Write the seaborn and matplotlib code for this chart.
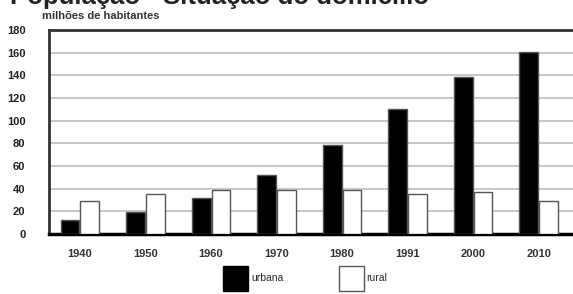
import pandas as pd
import matplotlib
matplotlib.use("Agg")
import matplotlib.pyplot as plt
import seaborn as sns
from matplotlib.patches import Patch

# --------------------- Data ---------------------
anos = ["1940", "1950", "1960", "1970", "1980", "1991", "2000", "2010"]
urbana = [12.5, 19, 31.5, 52, 78.5, 110.5, 138.5, 160.5]
rural = [29.5, 35, 38.5, 39, 39, 35, 37, 29.5]
situacao = ["urbana", "rural"]
yticks = [0, 20, 40, 60, 80, 100, 120, 140, 160, 180]

df = pd.DataFrame({
    "ano": anos * 2,
    "situacao": [situacao[0]] * len(anos) + [situacao[1]] * len(anos),
    "pop": urbana + rural,
})

sns.set_style("white")
plt.rcParams["font.family"] = ["Liberation Sans", "DejaVu Sans"]

fig = plt.figure(figsize=(5.73, 2.94), dpi=100)
ax = fig.add_axes([0.0855, 0.204, 0.93, 0.694])

sns.barplot(data=df, x="ano", y="pop", hue="situacao", order=anos,
            hue_order=situacao, palette=["black", "white"], width=0.6, gap=0.05,
            edgecolor="#555555", linewidth=1.0, legend=False, ax=ax, zorder=3)

ax.set_ylim(0, 180)
ax.set_xlim(-0.473, 7.66)
ax.set_yticks(yticks)
ax.set_yticklabels([str(v) for v in yticks], fontsize=8, fontweight="bold", color="#222222")
ax.set_xticks(range(len(anos)))
ax.set_xticklabels(anos, fontsize=8, fontweight="bold", color="#333333")
ax.tick_params(axis="both", length=0)
ax.tick_params(axis="y", pad=17)
ax.tick_params(axis="x", pad=11)
ax.set_xlabel("")
ax.set_ylabel("")

# grid
ax.yaxis.grid(True, color="#bdbdbd", linewidth=1.2, zorder=0)
ax.set_axisbelow(True)

for side in ["left", "top"]:
    ax.spines[side].set_color("#333333")
    ax.spines[side].set_linewidth(2)
ax.spines["bottom"].set_color("black")
ax.spines["bottom"].set_linewidth(2.5)
ax.spines["right"].set_visible(False)

# title (cut at top in the original) and unit
fig.text(0.017, 0.987, "População - Situação do domicílio", fontsize=18.5,
         fontweight="bold", ha="left", va="baseline", color="#222222")
fig.text(0.073, 0.946, "milhões de habitantes", fontsize=8, fontweight="bold",
         ha="left", va="center", color="#333333")

# legend below
handles = [Patch(facecolor="black", edgecolor="black"),
           Patch(facecolor="white", edgecolor="#555555")]
fig.legend(handles, situacao, loc="upper left", bbox_to_anchor=(223 / 573, 1 - 266 / 294),
           ncol=2, frameon=False, fontsize=7.5, handlelength=2.4, handleheight=3.3,
           handletextpad=0.3, columnspacing=5.3, borderpad=0, borderaxespad=0)

plt.savefig("out.png", dpi=100)
